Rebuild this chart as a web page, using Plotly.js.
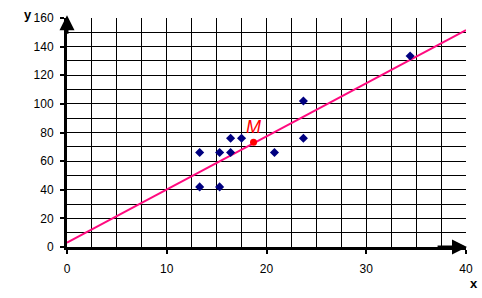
<!DOCTYPE html>
<html>
<head>
<meta charset="utf-8">
<script src="https://cdn.plot.ly/plotly-3.0.1.min.js"></script>
<style>html,body{margin:0;padding:0;background:#fff;}#chart{width:482px;height:298px;}</style>
</head>
<body>
<div id="chart"></div>
<script>
// Data points
const pointsX = [13.3, 15.3, 16.4, 16.4, 17.5, 20.8, 23.7, 23.7, 13.3, 15.3, 34.4];
const pointsY = [66, 66, 66, 76, 76, 66, 102, 76, 42, 42, 133.5];
// Mean point M
const meanX = [18.7];
const meanY = [73.2];
const meanLabel = ['M'];
// Regression line endpoints
const lineX = [0, 40];
const lineY = [3, 151.6];

const axisFont = {family: 'Liberation Sans, Arial, sans-serif', size: 12, color: '#000'};

const traces = [
  {x: lineX, y: lineY, mode: 'lines', line: {color: '#ff0a7f', width: 2}, hoverinfo: 'skip', cliponaxis: false},
  {x: pointsX, y: pointsY, mode: 'markers', marker: {symbol: 'diamond', size: 7, color: '#000080'}, cliponaxis: false},
  {x: meanX, y: meanY, mode: 'markers', marker: {symbol: 'circle', size: 7, color: '#ff0000'}, cliponaxis: false}
];

const layout = {
  width: 482, height: 298,
  margin: {l: 67, r: 16, t: 18, b: 51, pad: 0},
  paper_bgcolor: '#fff', plot_bgcolor: '#fff',
  showlegend: false,
  font: axisFont,
  xaxis: {
    range: [0, 40], tick0: 0, dtick: 10, fixedrange: true,
    showgrid: true, gridcolor: '#000', gridwidth: 1,
    minor: {dtick: 2.5, showgrid: true, gridcolor: '#000', gridwidth: 1, ticks: ''},
    ticks: 'outside', ticklen: 4, tickwidth: 2, tickcolor: '#000',
    showline: true, linecolor: '#000', linewidth: 3,
    zeroline: false, tickfont: axisFont, ticklabelstandoff: 5
  },
  yaxis: {
    range: [0, 160], tick0: 0, dtick: 20, fixedrange: true,
    showgrid: true, gridcolor: '#000', gridwidth: 1,
    minor: {dtick: 10, showgrid: true, gridcolor: '#000', gridwidth: 1, ticks: ''},
    ticks: 'outside', ticklen: 4, tickwidth: 2, tickcolor: '#000',
    showline: true, linecolor: '#000', linewidth: 3,
    zeroline: false, tickfont: axisFont, ticklabelstandoff: 4
  },
  annotations: [
    {x: 0, y: 162, ax: 0, ay: 148, xref: 'x', yref: 'y', axref: 'x', ayref: 'y',
     showarrow: true, arrowhead: 2, arrowsize: 1.0, arrowwidth: 3, arrowcolor: '#000', text: ''},
    {x: 40.1, y: 0, ax: 37, ay: 0, xref: 'x', yref: 'y', axref: 'x', ayref: 'y',
     showarrow: true, arrowhead: 2, arrowsize: 1.0, arrowwidth: 3, arrowcolor: '#000', text: ''},
    {x: meanX[0], y: meanY[0], xref: 'x', yref: 'y', text: meanLabel[0], showarrow: false,
     xshift: 0, yshift: 15, font: {family: 'Liberation Sans, Arial, sans-serif', size: 18, color: '#ff0000', style: 'italic'}},
    {xref: 'paper', yref: 'paper', x: -0.098, y: 1.015, xanchor: 'center', yanchor: 'middle', showarrow: false,
     text: '<b>y</b>', font: {family: 'Liberation Sans, Arial, sans-serif', size: 13, color: '#000'}},
    {xref: 'paper', yref: 'paper', x: 1.02, y: -0.16, xanchor: 'center', yanchor: 'middle', showarrow: false,
     text: '<b>x</b>', font: {family: 'Liberation Sans, Arial, sans-serif', size: 13, color: '#000'}}
  ]
};

Plotly.newPlot('chart', traces, layout, {staticPlot: true, displayModeBar: false});
</script>
</body>
</html>
